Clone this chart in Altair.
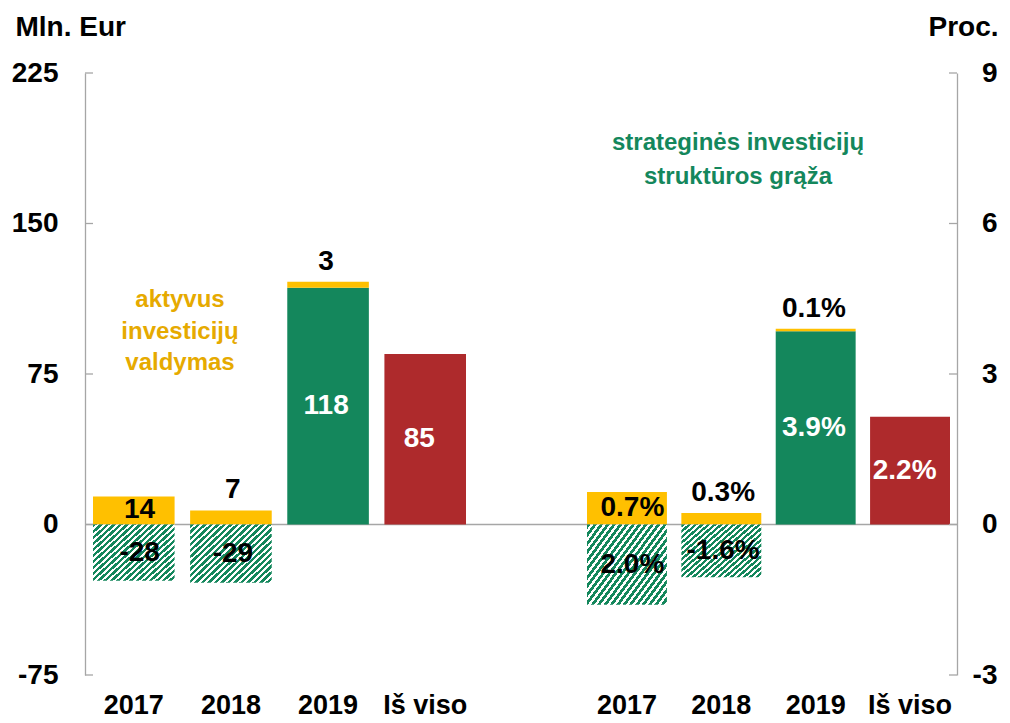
import altair as alt
import pandas as pd

categories = ["2017", "2018", "2019", "Iš viso"]

# Left panel: Mln. Eur
eur_green = [None, None, 118, None]
eur_yellow = [14, 7, 3, None]
eur_red = [None, None, None, 85]
eur_hatch = [-28, -29, None, None]
eur_green_lbl = [None, None, "118", None]
eur_yellow_lbl = ["14", "7", "3", None]
eur_red_lbl = [None, None, None, "85"]
eur_hatch_lbl = ["-28", "-29", None, None]

# Right panel: Proc.
pct_green = [None, None, 3.85, None]
pct_yellow = [0.65, 0.23, 0.05, None]
pct_red = [None, None, None, 2.15]
pct_hatch = [-1.6, -1.05, None, None]
pct_green_lbl = [None, None, "3.9%", None]
pct_yellow_lbl = ["0.7%", "0.3%", "0.1%", None]
pct_red_lbl = [None, None, None, "2.2%"]
pct_hatch_lbl = ["2.0%", "-1.6%", None, None]

eur_ticks = [-75, 0, 75, 150, 225]
pct_ticks = [-3, 0, 3, 6, 9]

YELLOW = "#FFC000"
GREEN = "#14875C"
RED = "#AE2A2C"
AXIS_GRAY = "#A6A6A6"
FONT = "Liberation Sans"
W, H = 872, 602


def build_rows(green, yellow, red, hatch, gl, yl, rl, hl, thr):
    rows = []
    for i, c in enumerate(categories):
        base = 0
        if green[i] is not None:
            rows.append(dict(cat=c, seg="green", lo=0, hi=green[i], label=gl[i]))
            base = green[i]
        if yellow[i] is not None:
            rows.append(dict(cat=c, seg="yellow", lo=base, hi=base + yellow[i], label=yl[i]))
        if red[i] is not None:
            rows.append(dict(cat=c, seg="red", lo=0, hi=red[i], label=rl[i]))
        if hatch[i] is not None:
            rows.append(dict(cat=c, seg="hatch", lo=hatch[i], hi=0, label=hl[i]))
    df = pd.DataFrame(rows)
    df["mid"] = (df["lo"] + df["hi"]) / 2
    df["pos"] = ["in" if (h - l) >= thr else "up" for l, h in zip(df["lo"], df["hi"])]
    df["tc"] = ["white" if s in ("green", "red") else "black" for s in df["seg"]]
    return df


df_eur = build_rows(eur_green, eur_yellow, eur_red, eur_hatch,
                    eur_green_lbl, eur_yellow_lbl, eur_red_lbl, eur_hatch_lbl, 10)
df_pct = build_rows(pct_green, pct_yellow, pct_red, pct_hatch,
                    pct_green_lbl, pct_yellow_lbl, pct_red_lbl, pct_hatch_lbl, 0.4)

# diagonal hatch as a striped gradient
N = 22
K = 0.75
A = (1 + K) / (1 + K * K)
stops = []
for i in range(N):
    a = i / N
    b = (i + 0.55) / N
    c = (i + 1) / N
    stops += [
        alt.GradientStop(offset=a, color=GREEN),
        alt.GradientStop(offset=b, color=GREEN),
        alt.GradientStop(offset=b, color="white"),
        alt.GradientStop(offset=c, color="white"),
    ]
hatch_fill = alt.LinearGradient(gradient="linear", stops=stops, x1=0, y1=0, x2=A, y2=A * K)


def group(df, domain, ticks, title, orient, xrange, pad_inner, ann_text, ann_color, ann_x, ann_y, ann_lh):
    if orient == "left":
        yaxis = alt.Axis(
            orient="left", values=ticks, title=title, titleAngle=0, titleAlign="left",
            titleBaseline="alphabetic", titleX=-70, titleY=-38, titleFont=FONT,
            titleFontSize=28, titleFontWeight="bold", titleColor="black",
            labelFont=FONT, labelFontSize=28, labelFontWeight="bold", labelColor="black",
            labelExpr="'' + datum.value",
            labelPadding=27, ticks=False, grid=False, domainColor=AXIS_GRAY, domainWidth=1.3,
        )
        tick_x, tick_x2 = 0, 8
    else:
        yaxis = alt.Axis(
            orient="right", values=ticks, title=title, titleAngle=0, titleAlign="right",
            titleBaseline="alphabetic", titleX=41, titleY=-38, titleFont=FONT,
            titleFontSize=28, titleFontWeight="bold", titleColor="black",
            labelFont=FONT, labelFontSize=28, labelFontWeight="bold", labelColor="black",
            labelExpr="'' + datum.value",
            labelAlign="right", labelPadding=40, ticks=False, grid=False,
            domainColor=AXIS_GRAY, domainWidth=1.3,
        )
        tick_x, tick_x2 = W - 8, W
    xaxis = alt.Axis(
        orient="bottom", title=None, domain=False, ticks=False, labelAngle=0,
        labelFont=FONT, labelFontSize=27, labelFontWeight="bold", labelColor="black",
        labelPadding=17,
    )

    def xs():
        return alt.Scale(domain=categories, range=xrange, paddingInner=pad_inner, paddingOuter=0)

    def ys():
        return alt.Scale(domain=domain, nice=False, zero=False)

    solid = alt.Chart(df[df["seg"] != "hatch"]).mark_bar().encode(
        x=alt.X("cat:N", scale=xs(), axis=xaxis, sort=categories),
        y=alt.Y("hi:Q", scale=ys(), axis=yaxis),
        y2="lo:Q",
        fill=alt.Fill("seg:N", scale=alt.Scale(domain=["yellow", "green", "red"],
                                               range=[YELLOW, GREEN, RED]), legend=None),
    )
    hatch = alt.Chart(df[df["seg"] == "hatch"]).mark_bar(fill=hatch_fill).encode(
        x=alt.X("cat:N", scale=xs(), axis=None, sort=categories),
        y=alt.Y("hi:Q", scale=ys(), axis=None),
        y2="lo:Q",
    )
    tk = alt.Chart(pd.DataFrame({"t": ticks})).mark_rule(color=AXIS_GRAY, strokeWidth=1.3).encode(
        y=alt.Y("t:Q", scale=ys(), axis=None), x=alt.value(tick_x), x2=alt.value(tick_x2)
    )
    txt_in = alt.Chart(df[df["pos"] == "in"]).mark_text(
        font=FONT, fontSize=28, fontWeight="bold", baseline="middle", align="center"
    ).encode(
        x=alt.X("cat:N", scale=xs(), axis=None, sort=categories),
        y=alt.Y("mid:Q", scale=ys(), axis=None),
        text="label:N",
        color=alt.Color("tc:N", scale=None),
    )
    txt_up = alt.Chart(df[df["pos"] == "up"]).mark_text(
        font=FONT, fontSize=28, fontWeight="bold", baseline="middle", align="center", dy=-20,
        color="black",
    ).encode(
        x=alt.X("cat:N", scale=xs(), axis=None, sort=categories),
        y=alt.Y("hi:Q", scale=ys(), axis=None),
        text="label:N",
    )
    ann = alt.Chart(pd.DataFrame({"a": [0]})).mark_text(
        text=ann_text, font=FONT, fontSize=24, fontWeight="bold", color=ann_color,
        align="center", baseline="middle", lineHeight=ann_lh,
    ).encode(x=alt.value(ann_x), y=alt.value(ann_y))
    return [solid, hatch, tk, txt_in, txt_up, ann]


zero = alt.Chart(pd.DataFrame({"z": [0]})).mark_rule(color=AXIS_GRAY, strokeWidth=1.3).encode(
    y=alt.Y("z:Q", scale=alt.Scale(domain=[-75, 225], nice=False, zero=False), axis=None)
)

left = group(df_eur, [-75, 225], eur_ticks, "Mln. Eur", "left", [8, 381], 0.16,
             ["aktyvus", "investicijų", "valdymas"], "#E6AA00", 95, 227, 31.5)
right = group(df_pct, [-3, 9], pct_ticks, "Proc.", "right", [502, 865], 0.153,
              ["strateginės investicijų", "struktūros grąža"], GREEN, 653, 70, 34)

chart = alt.layer(zero, *left, *right).resolve_scale(
    x="independent", y="independent", fill="independent", color="independent"
).properties(
    width=W, height=H,
    autosize=alt.AutoSizeParams(type="none"),
    padding={"left": 77, "top": 65, "right": 45, "bottom": 48},
).configure_view(stroke=None)

chart.save("out.html", embed_options={"renderer": "svg", "actions": False})
